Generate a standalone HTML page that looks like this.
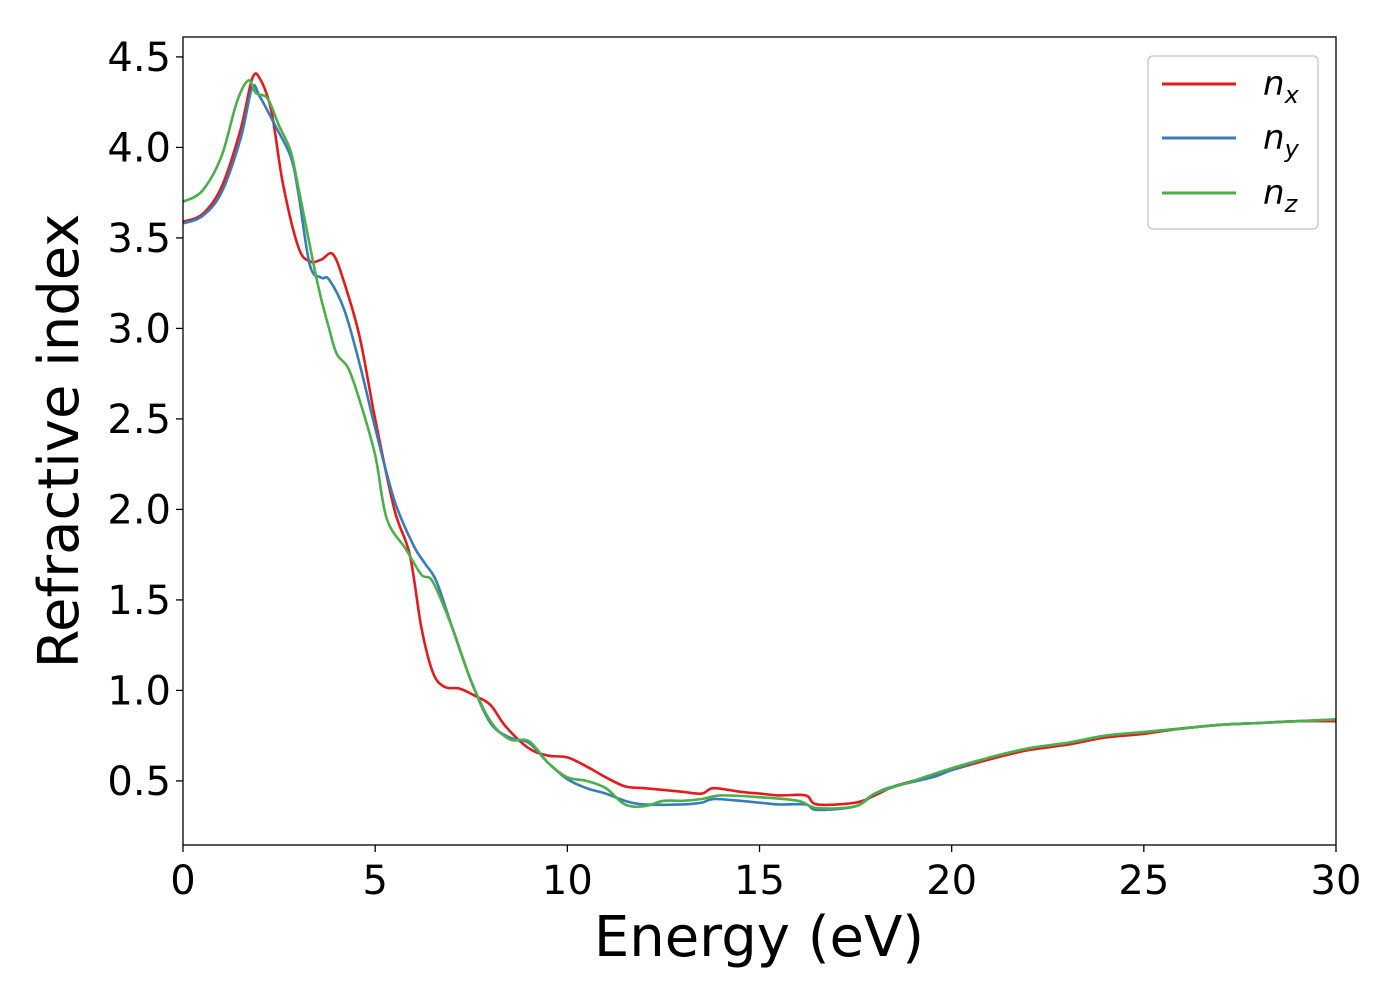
<!DOCTYPE html>
<html><head><meta charset="utf-8"><style>
body{margin:0;background:#fff}
svg text{font-family:"DejaVu Sans","Liberation Sans",sans-serif;fill:#000}
</style></head><body>
<svg id="chart" width="1400" height="1000">
<g id="plot"></g>
<g id="xt"></g>
<g id="yt"></g>
<text x="759" y="956" font-size="56" text-anchor="middle">Energy (eV)</text>
<text transform="translate(78,441) rotate(-90)" font-size="56" text-anchor="middle">Refractive index</text>
<g>
<rect x="1148" y="56" width="170" height="173" rx="5" fill="#fff" stroke="#ccc" stroke-width="1.5"/>
<g><line x1="1162" y1="84" x2="1236" y2="84" stroke="#e41a1c" stroke-width="3"/><text x="1263" y="95" font-size="34" font-style="italic">n<tspan font-size="24" dy="8">x</tspan></text></g>
<g><line x1="1162" y1="138" x2="1236" y2="138" stroke="#377eb8" stroke-width="3"/><text x="1263" y="149" font-size="34" font-style="italic">n<tspan font-size="24" dy="8">y</tspan></text></g>
<g><line x1="1162" y1="193" x2="1236" y2="193" stroke="#4daf4a" stroke-width="3"/><text x="1263" y="204" font-size="34" font-style="italic">n<tspan font-size="24" dy="8">z</tspan></text></g>
</g>
</svg>
<script>
const xTicks=[0,5,10,15,20,25,30];
const yTicks=[0.5,1.0,1.5,2.0,2.5,3.0,3.5,4.0,4.5];
const nxE=[0,0.5,1.0,1.5,1.8,2.0,2.3,2.6,3.0,3.3,3.6,3.9,4.2,4.6,5.0,5.5,5.9,6.2,6.5,6.8,7.2,7.6,8.0,8.4,9.0,9.5,10,10.5,11,11.5,12,12.5,13,13.5,13.8,14.5,15,15.5,16.2,16.5,17.5,18,18.5,19,20,21,22,23,24,25,26,27,28,29,30];
const nxV=[3.59,3.63,3.78,4.1,4.38,4.38,4.2,3.8,3.45,3.37,3.38,3.41,3.25,2.95,2.5,2.0,1.75,1.35,1.1,1.02,1.01,0.97,0.92,0.8,0.68,0.64,0.63,0.58,0.52,0.47,0.46,0.45,0.44,0.43,0.46,0.44,0.43,0.42,0.42,0.37,0.38,0.42,0.47,0.50,0.56,0.62,0.67,0.70,0.74,0.76,0.79,0.81,0.82,0.83,0.83];
const nyE=[0,0.5,1.0,1.5,1.8,2.0,2.4,2.8,3.0,3.3,3.6,3.8,4.2,4.6,5.0,5.5,6.0,6.3,6.6,7.0,7.5,8.0,8.5,9.0,9.5,10,10.5,11,11.5,12,13,13.5,13.8,14.5,15,15.5,16.2,16.5,17.5,18,18.5,19.5,20,21,22,23,24,25,26,27,28,29,30];
const nyV=[3.58,3.62,3.75,4.05,4.33,4.28,4.12,3.95,3.75,3.35,3.28,3.27,3.1,2.8,2.45,2.05,1.8,1.7,1.6,1.35,1.05,0.82,0.74,0.71,0.6,0.51,0.46,0.43,0.39,0.37,0.37,0.38,0.40,0.39,0.38,0.37,0.37,0.34,0.36,0.43,0.47,0.52,0.56,0.63,0.68,0.71,0.75,0.77,0.79,0.81,0.82,0.83,0.84];
const nzE=[0,0.5,1.0,1.4,1.7,1.9,2.2,2.5,2.8,3.0,3.5,3.8,4.0,4.3,4.6,5.0,5.3,5.8,6.2,6.5,7.0,7.5,8.0,8.5,9.0,9.5,10,10.5,11,11.5,12,12.5,13,13.5,14,15,16,16.5,17.5,18,19,20,21,22,23,24,25,26,27,28,29,30];
const nzV=[3.70,3.76,3.95,4.25,4.37,4.30,4.27,4.12,3.98,3.78,3.25,3.0,2.86,2.78,2.6,2.3,1.95,1.78,1.64,1.6,1.35,1.05,0.83,0.73,0.72,0.6,0.52,0.5,0.46,0.37,0.36,0.39,0.39,0.40,0.42,0.41,0.39,0.35,0.36,0.43,0.5,0.57,0.63,0.68,0.71,0.75,0.77,0.79,0.81,0.82,0.83,0.84];
const X0=183,X1=1336,Y0=37,Y1=845,xmin=0,xmax=30,ymin=0.146,ymax=4.61;
const sx=v=>X0+(v-xmin)/(xmax-xmin)*(X1-X0);
const sy=v=>Y1-(v-ymin)/(ymax-ymin)*(Y1-Y0);
const NS="http://www.w3.org/2000/svg";
function mk(t,a,p){const e=document.createElementNS(NS,t);for(const k in a)e.setAttribute(k,a[k]);p.appendChild(e);return e;}
function path(E,V){const P=E.map((e,i)=>[sx(e),sy(V[i])]);let d="M"+P[0][0]+","+P[0][1];
for(let i=0;i<P.length-1;i++){const p0=P[Math.max(0,i-1)],p1=P[i],p2=P[i+1],p3=P[Math.min(P.length-1,i+2)];
d+=" C"+(p1[0]+(p2[0]-p0[0])/6)+","+(p1[1]+(p2[1]-p0[1])/6)+" "+(p2[0]-(p3[0]-p1[0])/6)+","+(p2[1]-(p3[1]-p1[1])/6)+" "+p2[0]+","+p2[1];}return d;}
const plot=document.getElementById('plot');
const defs=mk('defs',{},plot);const cp=mk('clipPath',{id:'c'},defs);mk('rect',{x:X0,y:Y0,width:X1-X0,height:Y1-Y0},cp);
const g=mk('g',{'clip-path':'url(#c)'},plot);
[[nxE,nxV,'#e41a1c','line-nx'],[nyE,nyV,'#377eb8','line-ny'],[nzE,nzV,'#4daf4a','line-nz']].forEach(s=>{
const l=mk('path',{d:path(s[0],s[1]),fill:'none',stroke:s[2],'stroke-width':2.6},g);

});
const fr=mk('rect',{x:X0,y:Y0,width:X1-X0,height:Y1-Y0,fill:'none',stroke:'#000','stroke-width':1.3},plot);


const xt=document.getElementById('xt'),yt=document.getElementById('yt');
xTicks.forEach(v=>{mk('line',{x1:sx(v),x2:sx(v),y1:Y1,y2:Y1+7,stroke:'#000','stroke-width':1.3},xt);
const t=mk('text',{x:sx(v),y:Y1+49,'font-size':40,'text-anchor':'middle'},xt);t.textContent=v;

});
yTicks.forEach(v=>{mk('line',{x1:X0-7,x2:X0,y1:sy(v),y2:sy(v),stroke:'#000','stroke-width':1.3},yt);
const t=mk('text',{x:X0-12,y:sy(v)+14,'font-size':40,'text-anchor':'end'},yt);t.textContent=v.toFixed(1);

});
</script>
</body></html>
